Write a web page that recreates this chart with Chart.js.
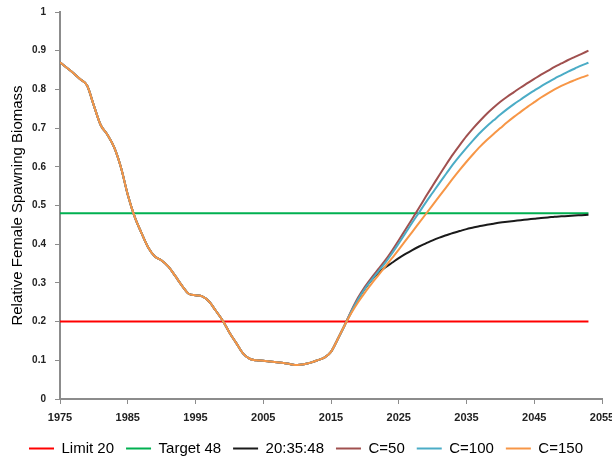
<!DOCTYPE html>
<html>
<head>
<meta charset="utf-8">
<script src="https://cdn.jsdelivr.net/npm/chart.js@4/dist/chart.umd.min.js"></script>
<style>
html,body{margin:0;padding:0;background:#fff;}
#wrap{width:612px;height:459px;position:relative;}
</style>
</head>
<body>
<div id="wrap"><canvas id="c" width="612" height="459"></canvas></div>
<script>
// ---- data ----
const histYears = [1975,1976,1977,1978,1979,1980,1981,1982,1983,1984,1985,1986,1987,1988,1989,1990,1991,1992,1993,1994,1995,1996,1997,1998,1999,2000,2001,2002,2003,2004,2005,2006,2007,2008,2009,2010,2011,2012,2013,2014,2015,2016,2017];
const histValues = [0.870,0.856,0.842,0.826,0.810,0.758,0.708,0.683,0.650,0.598,0.528,0.472,0.430,0.392,0.368,0.358,0.342,0.318,0.293,0.272,0.268,0.265,0.252,0.228,0.203,0.172,0.145,0.118,0.104,0.100,0.099,0.097,0.095,0.093,0.090,0.088,0.090,0.094,0.100,0.107,0.122,0.155,0.190];
const projYears = [2018,2019,2020,2021,2022,2023,2024,2025,2026,2027,2028,2029,2030,2031,2032,2033,2034,2035,2036,2037,2038,2039,2040,2041,2042,2043,2044,2045,2046,2047,2048,2049,2050,2051,2052,2053];
const rule203548 = [0.225,0.258,0.285,0.308,0.326,0.340,0.352,0.364,0.375,0.385,0.394,0.402,0.410,0.417,0.423,0.429,0.434,0.439,0.443,0.447,0.450,0.453,0.456,0.458,0.460,0.462,0.464,0.466,0.468,0.469,0.471,0.472,0.473,0.474,0.475,0.476];
const c50 = [0.228,0.262,0.290,0.314,0.336,0.358,0.383,0.410,0.438,0.466,0.494,0.523,0.551,0.579,0.606,0.632,0.656,0.679,0.700,0.719,0.737,0.753,0.768,0.781,0.793,0.805,0.816,0.827,0.838,0.848,0.858,0.867,0.876,0.884,0.892,0.900];
const c100 = [0.226,0.258,0.285,0.308,0.330,0.352,0.376,0.402,0.429,0.456,0.482,0.508,0.533,0.558,0.582,0.606,0.628,0.649,0.669,0.688,0.705,0.720,0.735,0.749,0.762,0.774,0.786,0.797,0.808,0.818,0.828,0.837,0.846,0.854,0.862,0.869];
const c150 = [0.222,0.250,0.275,0.298,0.320,0.342,0.364,0.386,0.409,0.432,0.455,0.478,0.501,0.524,0.547,0.570,0.592,0.613,0.633,0.652,0.669,0.685,0.700,0.715,0.729,0.742,0.755,0.767,0.779,0.790,0.800,0.809,0.817,0.824,0.831,0.837];
const refYears = [1975, 2053];
const limitValues = [0.2, 0.2];
const targetValues = [0.48, 0.48];
const seriesLabels = ['Limit 20','Target 48','20:35:48','C=50','C=100','C=150'];
const xTicks = [1975,1985,1995,2005,2015,2025,2035,2045,2055];
const yTicks = [0,0.1,0.2,0.3,0.4,0.5,0.6,0.7,0.8,0.9,1];

function pts(xs, ys){ return xs.map((x,i)=>({x:x, y:ys[i]})); }
function scen(proj){ return pts(histYears.concat(projYears), histValues.concat(proj)); }

const FONT = "'Liberation Sans', Arial, sans-serif";
const common = {pointRadius:0, pointHoverRadius:0, borderWidth:2, fill:false, cubicInterpolationMode:'monotone'};

new Chart(document.getElementById('c'), {
  type: 'line',
  data: {
    datasets: [
      Object.assign({label: seriesLabels[0], data: pts(refYears, limitValues), borderColor:'#FF0000', backgroundColor:'#FF0000', order:6}, common),
      Object.assign({label: seriesLabels[1], data: pts(refYears, targetValues), borderColor:'#00B050', backgroundColor:'#00B050', order:5}, common),
      Object.assign({label: seriesLabels[2], data: scen(rule203548), borderColor:'#1A1A1A', backgroundColor:'#1A1A1A', order:4}, common),
      Object.assign({label: seriesLabels[3], data: scen(c50), borderColor:'#A0504F', backgroundColor:'#A0504F', order:3}, common),
      Object.assign({label: seriesLabels[4], data: scen(c100), borderColor:'#4BACC6', backgroundColor:'#4BACC6', order:2}, common),
      Object.assign({label: seriesLabels[5], data: scen(c150), borderColor:'#F79646', backgroundColor:'#F79646', order:1}, common)
    ]
  },
  options: {
    responsive: false,
    animation: false,
    devicePixelRatio: 1,
    layout: {padding: {left:0, right:0, top:12, bottom:-7}},
    plugins: {
      tooltip: {enabled:false},
      legend: {
        position: 'bottom',
        labels: {
          usePointStyle: true,
          pointStyle: 'line',
          pointStyleWidth: 25,
          padding: 12,
          color: '#000',
          font: {family: FONT, size: 15},
          sort: (a, b) => a.datasetIndex - b.datasetIndex
        }
      }
    },
    scales: {
      x: {
        type: 'linear',
        min: 1975, max: 2055,
        afterBuildTicks: (s) => { s.ticks = xTicks.map(v => ({value: v})); },
        afterFit: (s) => { s.height = 30; s.paddingRight = 10; },
        ticks: {
          autoSkip: false, maxRotation: 0,
          padding: 7,
          color: '#222',
          font: {family: FONT, size: 11, weight: 'bold'},
          callback: (v) => String(v)
        },
        grid: {drawOnChartArea:false, drawTicks:true, tickLength:5, color:'#8C8C8C'},
        border: {color:'#8C8C8C', width:2}
      },
      y: {
        min: 0, max: 1,
        afterBuildTicks: (s) => { s.ticks = yTicks.map(v => ({value: v})); },
        afterFit: (s) => { s.width = 60; s.paddingTop = 0; s.paddingBottom = 0; },
        ticks: {
          padding: 9,
          color: '#222',
          font: {family: FONT, size: 10, weight: 'bold'},
          callback: (v) => String(Math.round(v*10)/10)
        },
        grid: {drawOnChartArea:false, drawTicks:true, tickLength:5, color:'#8C8C8C'},
        border: {color:'#8C8C8C', width:2},
        title: {
          display: true,
          text: 'Relative Female Spawning Biomass',
          color: '#000',
          font: {family: FONT, size: 15},
          padding: {top: 9, bottom: 0}
        }
      }
    }
  }
});
</script>
</body>
</html>
